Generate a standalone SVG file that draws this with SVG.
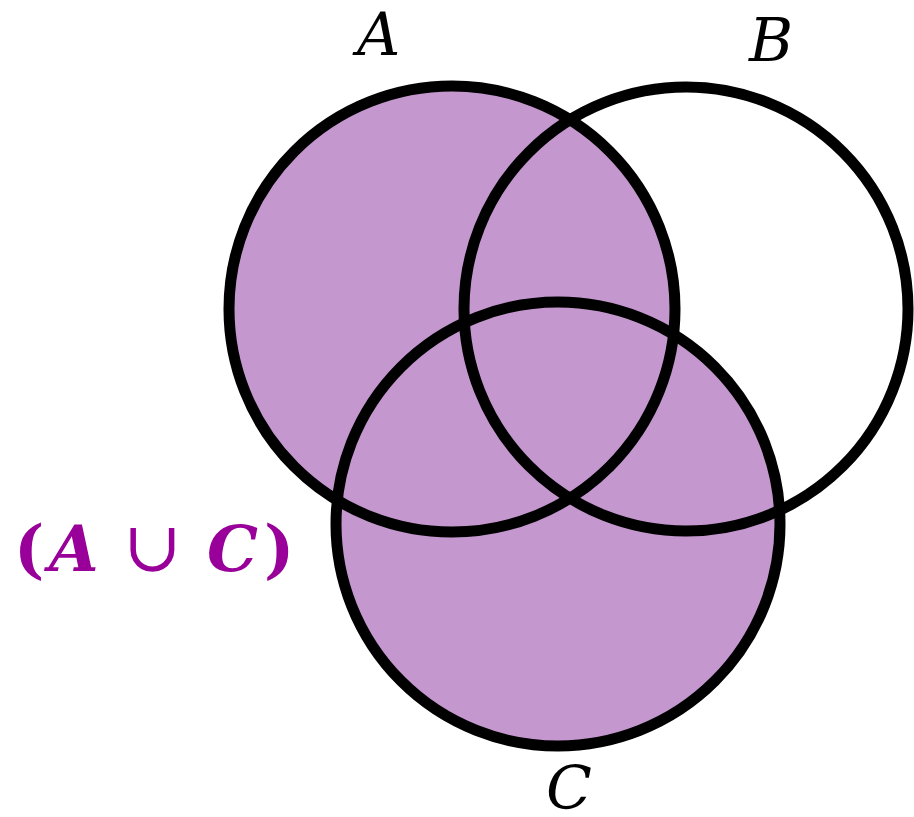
<svg xmlns="http://www.w3.org/2000/svg" width="914" height="817" viewBox="0 0 914 817">
<style>
.fill{fill:#c497cf;stroke:none}
.ring{fill:none;stroke:#000;stroke-width:11}
.lbl{font-family:"DejaVu Serif",serif;font-style:italic;font-size:60px;fill:#000}
.set{font-family:"DejaVu Serif",serif;font-weight:bold;font-size:64px;fill:#990099}
</style>
<rect width="914" height="817" fill="#fff"/>
<g id="fills">
<circle class="fill" cx="452" cy="309" r="223"/>
<circle class="fill" cx="558" cy="524" r="222"/>
</g>
<g id="A"><circle class="ring" cx="452" cy="309" r="223"/><text class="lbl" x="357" y="55">A</text></g>
<g id="B"><circle class="ring" cx="686" cy="309" r="222"/><text class="lbl" x="749" y="61">B</text></g>
<g id="C"><circle class="ring" cx="558" cy="524" r="222"/><text class="lbl" x="546" y="809">C</text></g>
<g id="label"><text class="set" y="571"><tspan x="14">(</tspan><tspan x="49" font-style="italic">A</tspan><tspan x="123" font-weight="normal" font-size="70px">∪</tspan><tspan x="207" font-style="italic">C</tspan><tspan x="264">)</tspan></text></g>
</svg>
